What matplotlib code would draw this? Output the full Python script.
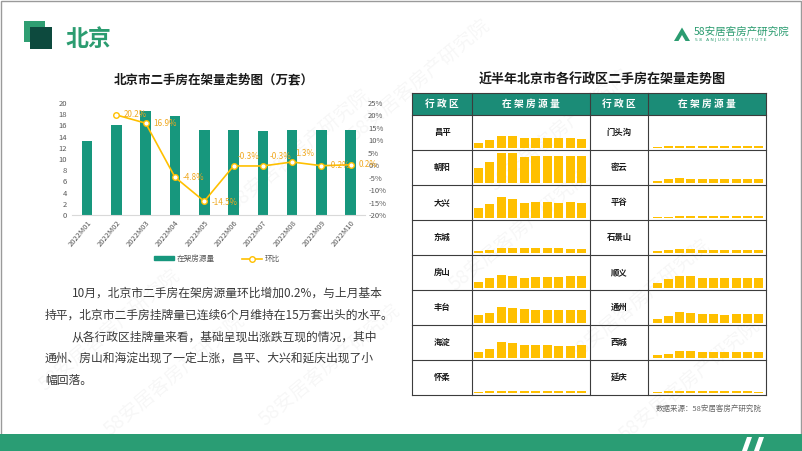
import matplotlib
matplotlib.use('Agg')
import matplotlib.pyplot as plt
import numpy as np
from matplotlib.patches import Rectangle, Polygon, Patch
from matplotlib.lines import Line2D

plt.rcParams['font.family'] = ['Noto Sans CJK SC', 'DejaVu Sans']

# ---------------- data ----------------
months = ['2022M01', '2022M02', '2022M03', '2022M04', '2022M05',
          '2022M06', '2022M07', '2022M08', '2022M09', '2022M10']
stock = [13.3, 16.0, 18.6, 17.7, 15.1, 15.1, 15.0, 15.2, 15.2, 15.2]   # 万套
mom = [np.nan, 20.2, 16.9, -4.8, -14.5, -0.3, -0.3, 1.3, -0.2, 0.2]    # %
left_ticks = [0, 2, 4, 6, 8, 10, 12, 14, 16, 18, 20]
right_ticks = [-20, -15, -10, -5, 0, 5, 10, 15, 20, 25]

districts_left = ['昌平', '朝阳', '大兴', '东城', '房山', '丰台', '海淀', '怀柔']
districts_right = ['门头沟', '密云', '平谷', '石景山', '顺义', '通州', '西城', '延庆']

changping = [5.2, 9.2, 14.4, 14.0, 11.4, 11.2, 11.2, 11.3, 11.2, 10.9]
chaoyang = [18.0, 25.2, 36.0, 36.0, 31.2, 32.0, 32.4, 32.4, 32.0, 32.0]
daxing = [12.0, 16.8, 24.4, 22.4, 17.2, 19.2, 18.4, 17.2, 19.2, 18.0]
dongcheng = [2.0, 3.6, 5.2, 5.2, 5.2, 5.2, 5.2, 5.2, 4.4, 4.4]
fangshan = [7.2, 11.2, 15.2, 14.4, 11.2, 12.4, 12.4, 12.4, 13.6, 14.4]
fengtai = [8.8, 12.0, 18.8, 18.0, 16.8, 14.8, 14.8, 14.8, 14.8, 14.8]
haidian = [7.2, 10.8, 18.4, 18.0, 15.6, 15.6, 14.8, 14.0, 14.0, 15.2]
huairou = [1.2, 1.6, 1.8, 1.8, 1.8, 1.8, 1.8, 1.8, 1.8, 1.7]
mentougou = [1.2, 2.0, 2.2, 2.0, 2.0, 2.0, 2.0, 2.0, 2.0, 2.0]
miyun = [2.0, 4.0, 6.0, 4.8, 4.8, 4.8, 4.8, 4.8, 4.8, 4.8]
pinggu = [1.0, 1.4, 1.6, 1.6, 1.5, 1.5, 1.5, 1.5, 1.5, 1.5]
shijingshan = [2.0, 3.2, 4.8, 4.4, 3.6, 3.6, 3.6, 3.6, 3.6, 3.6]
shunyi = [5.2, 10.0, 14.4, 13.6, 11.2, 11.2, 11.2, 11.2, 11.2, 11.2]
tongzhou = [4.4, 7.6, 12.4, 12.0, 10.4, 10.4, 9.6, 10.0, 10.0, 10.8]
xicheng = [2.8, 4.8, 8.0, 8.0, 7.2, 7.2, 6.4, 6.4, 6.4, 6.4]
yanqing = [1.2, 1.6, 1.6, 1.6, 1.6, 1.6, 1.6, 1.6, 1.6, 1.4]

series_left = [changping, chaoyang, daxing, dongcheng, fangshan, fengtai, haidian, huairou]
series_right = [mentougou, miyun, pinggu, shijingshan, shunyi, tongzhou, xicheng, yanqing]

paragraph = [
    '10月，北京市二手房在架房源量环比增加0.2%，与上月基本',
    '持平，北京市二手房挂牌量已连续6个月维持在15万套出头的水平。',
    '从各行政区挂牌量来看，基础呈现出涨跌互现的情况，其中',
    '通州、房山和海淀出现了一定上涨，昌平、大兴和延庆出现了小',
    '幅回落。',
]

# ---------------- styles ----------------
W, H = 802, 451
TEAL = '#17977d'
HEAD = '#1b8c77'
GOLD = '#FFC000'
LABEL = '#F0A81E'
GREEN = '#2b9c70'
GRAY = '#595959'

fig = plt.figure(figsize=(W / 100, H / 100), dpi=100)
fig.patch.set_facecolor('white')

def fr(x0, y0, x1, y1):
    return [x0 / W, 1 - y1 / H, (x1 - x0) / W, (y1 - y0) / H]

bg = fig.add_axes([0, 0, 1, 1])
bg.set_xlim(0, W)
bg.set_ylim(H, 0)
bg.axis('off')

# watermarks
wm = '58安居客房产研究院'
for (wx, wy) in [(300, 150), (110, 330), (175, 375), (520, 230), (640, 300),
                 (560, 130), (420, 80), (330, 365), (690, 380)]:
    bg.text(wx, wy, wm, rotation=40, fontsize=14, color='#000000', alpha=0.035,
            ha='center', va='center', zorder=0)

# outer frame and bottom band
bg.add_patch(Rectangle((0.5, 0.5), W - 2, H, fill=False, ec='#9a9a9a', lw=1))
bg.add_patch(Rectangle((0, 434), W, 17, color='#2a9d74', lw=0))
bg.add_patch(Polygon([(742, 451), (747, 437), (752, 437), (747, 451)], color='white', lw=0))
bg.add_patch(Polygon([(754, 451), (759, 437), (764, 437), (759, 451)], color='white', lw=0))

# header
bg.add_patch(Rectangle((24, 21), 21, 21, color='#2f9e72', lw=0))
bg.add_patch(Rectangle((30, 27), 22, 22, color='#0d4a3e', lw=0))
bg.text(66, 40, '北京', fontsize=16.5, fontweight='bold', color=GREEN, ha='left', va='center')

# logo
bg.add_patch(Polygon([(674, 41), (682, 27.5), (690, 41)], color=GREEN, lw=0))
bg.add_patch(Polygon([(678.5, 41), (682, 35), (685.5, 41)], color='white', lw=0))
bg.text(694, 32, '58安居客房产研究院', fontsize=7.6, color=GREEN, ha='left', va='center')
bg.text(695, 40, '5 8   A N J U K E   I N S T I T U T E', fontsize=3.2, color=GREEN,
        ha='left', va='center', family='DejaVu Sans')

# titles
bg.text(214, 80, '北京市二手房在架量走势图（万套）', fontsize=9, fontweight='bold',
        color='#1a1a1a', ha='center', va='center')
bg.text(602, 80, '近半年北京市各行政区二手房在架量走势图', fontsize=9.4, fontweight='bold',
        color='#1a1a1a', ha='center', va='center')

# paragraph
par_x = [72, 45, 72, 45, 45]
for i, line in enumerate(paragraph):
    bg.text(par_x[i], 293 + 21.8 * i, line, fontsize=8.5, color='#3a3a3a',
            ha='left', va='center')

# source
bg.text(762, 409, '数据来源：58安居客房产研究院', fontsize=5.4, color='#666666',
        ha='right', va='center')

# ---------------- left chart ----------------
ax = fig.add_axes(fr(72.4, 103, 365.4, 215))
ax.set_facecolor('none')
x = np.arange(len(months))
ax.bar(x, stock, width=0.36, color=TEAL, zorder=2)
ax.set_xlim(-0.5, len(months) - 0.5)
ax.set_ylim(0, 20)
ax.set_yticks(left_ticks)
ax.set_xticks(x)
ax.set_xticklabels(months, rotation=50, ha='right', rotation_mode='anchor')
for s in ['top', 'left', 'right']:
    ax.spines[s].set_visible(False)
ax.spines['bottom'].set_color('#d9d9d9')
ax.spines['bottom'].set_linewidth(0.8)
ax.tick_params(axis='both', length=0, labelsize=5.5, colors=GRAY)
ax.tick_params(axis='y', pad=4)
ax.tick_params(axis='x', pad=3)

ax2 = ax.twinx()
ax2.set_facecolor('none')
ax2.plot(x, mom, color=GOLD, lw=1.2, marker='o', ms=4, mfc='white', mec=GOLD, mew=1.0, zorder=3)
ax2.set_ylim(-20, 25)
ax2.set_yticks(right_ticks)
ax2.set_yticklabels([f'{t}%' for t in right_ticks])
for s in ['top', 'left', 'right', 'bottom']:
    ax2.spines[s].set_visible(False)
ax2.tick_params(axis='y', length=0, labelsize=5.5, colors=GRAY, pad=2)

offsets = [(5.5, 0)] * len(mom)
offsets = list(offsets)
offsets[5] = (3, 6.5)
offsets[6] = (5, 6.5)
offsets[7] = (2, 6)
offsets[4] = (5.5, -1)
for i, v in enumerate(mom):
    if np.isnan(v):
        continue
    ax2.annotate(f'{v:.1f}%', (x[i], v), xytext=offsets[i], textcoords='offset points',
                 ha='left', va='center', fontsize=5.8, color=LABEL, zorder=4)

handles = [Patch(color=TEAL, label='在架房源量'),
           Line2D([0], [0], color=GOLD, lw=1.2, marker='o', ms=4, mfc='white', mec=GOLD, label='环比')]
fig.legend(handles=handles, loc='center', bbox_to_anchor=(217 / W, 1 - 259 / H), ncol=2,
           frameon=False, fontsize=5.5, handlelength=2.6, handleheight=0.5,
           columnspacing=3.5, handletextpad=0.4, labelcolor=GRAY)

# ---------------- table ----------------
tx = [412, 472, 590, 648, 766]
row_y = [93, 115, 150, 185, 220, 255, 290, 325, 360, 395]
bg.add_patch(Rectangle((412, 93), 354, 22, color=HEAD, lw=0))
for yy in row_y:
    bg.plot([412, 766], [yy, yy], color='#3c3c3c', lw=0.8)
for xx in tx:
    bg.plot([xx, xx], [93, 395], color='#3c3c3c', lw=0.8)
for cx, t in [(442, '行 政 区'), (531, '在 架 房 源 量'), (619, '行 政 区'), (707, '在 架 房 源 量')]:
    bg.text(cx, 104, t, fontsize=7, fontweight='bold', color='white', ha='center', va='center')

for i in range(8):
    y0 = row_y[i + 1]
    y1 = row_y[i + 2]
    yc = (y0 + y1) / 2
    bg.text(442, yc, districts_left[i], fontsize=6, fontweight='bold', color='#1a1a1a',
            ha='center', va='center')
    bg.text(619, yc, districts_right[i], fontsize=6, fontweight='bold', color='#1a1a1a',
            ha='center', va='center')
    for (cx0, cx1, xl, data) in [(472, 590, (-0.57, 9.74), series_left[i]),
                                 (648, 766, (-0.8, 9.64), series_right[i])]:
        cax = fig.add_axes(fr(cx0, y0, cx1, y1))
        cax.set_facecolor('none')
        cax.bar(np.arange(len(data)), data, width=0.79, color=GOLD, lw=0)
        cax.set_xlim(*xl)
        cax.set_ylim(-2.76, 39.24)
        cax.axis('off')

fig.savefig('out.png', dpi=100)
